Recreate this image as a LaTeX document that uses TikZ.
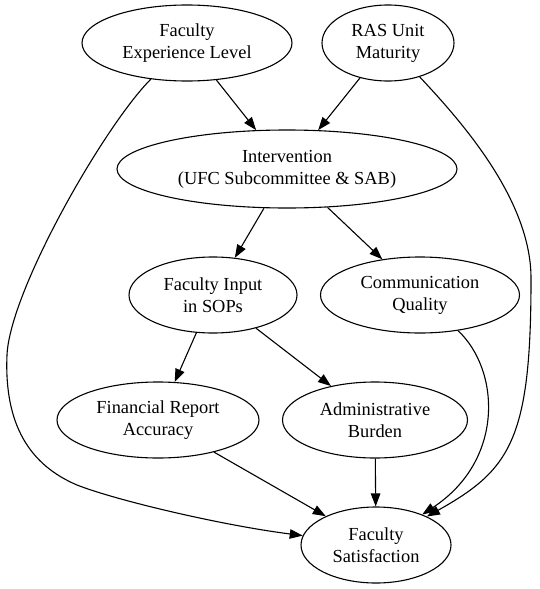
\documentclass[tikz,border=0pt]{standalone}
\usepackage{fontspec}
\setmainfont{Liberation Serif}
\usetikzlibrary{shapes.geometric, arrows.meta}
\begin{document}
\begin{tikzpicture}[x=1pt, y=-1pt,
		var/.style={ellipse, draw, line width=1.1pt, inner sep=0pt, align=center, font=\fontsize{18.4}{22}\selectfont},
		link/.style={line width=1.1pt, -{Triangle[length=13pt, width=9.5pt]}}]
		\useasboundingbox (0, 0) rectangle (539, 589);

		% causes
		\node (facexp) at (187, 43) [var, minimum width=210pt, minimum height=76pt] {Faculty\\Experience Level};
		\node (rasunit) at (388, 43) [var, minimum width=132pt, minimum height=76pt] {RAS Unit\\Maturity};

		% intervention
		\node (interv) at (287, 169) [var, minimum width=340pt, minimum height=78pt] {Intervention\\(UFC Subcommittee \& SAB)};

		% mediators
		\node (facinput) at (213, 295) [var, minimum width=168pt, minimum height=76pt] {Faculty Input\\in SOPs};
		\node (commq) at (420, 295) [var, minimum width=199pt, minimum height=76pt] {Communication\\Quality};
		\node (finacc) at (158, 420) [var, minimum width=202pt, minimum height=76pt] {Financial Report\\Accuracy};
		\node (adminb) at (375, 420) [var, minimum width=185pt, minimum height=76pt] {Administrative\\Burden};

		% outcome
		\node (facsat) at (376, 545) [var, minimum width=150pt, minimum height=76pt] {Faculty\\Satisfaction};

		\draw [link] (facexp) -- (interv);
		\draw [link] (rasunit) -- (interv);
		\draw [link] (interv) -- (facinput);
		\draw [link] (interv) -- (commq);
		\draw [link] (facinput) -- (finacc);
		\draw [link] (facinput) -- (adminb);
		\draw [link] (finacc) -- (facsat);
		\draw [link] (adminb) -- (facsat);

		% long curved links
		\draw [link] (facexp) .. controls (105, 125) and (10, 290) .. (7, 355) .. controls (4, 425) and (30, 465) .. (77, 485) .. controls (115, 500) and (220, 525) .. (facsat);
		\draw [link] (rasunit) .. controls (460, 120) and (532, 200) .. (531, 280) .. controls (531, 440) and (510, 470) .. (facsat);
		\draw [link] (commq) .. controls (500, 370) and (505, 460) .. (facsat);
	\end{tikzpicture}
\end{document}
